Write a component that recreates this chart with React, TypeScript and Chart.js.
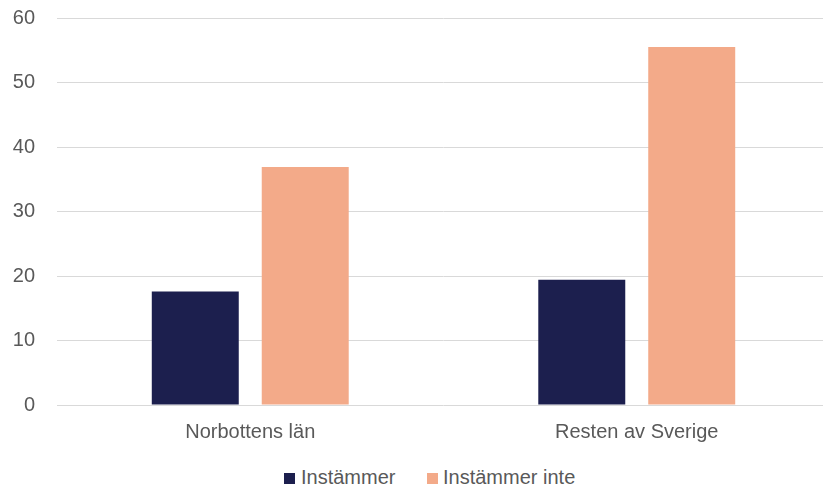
import React, { useEffect, useRef } from "react";
import { Chart, registerables } from "chart.js";

Chart.register(...registerables);

const categories = ["Norbottens län", "Resten av Sverige"];
const seriesNames = ["Instämmer", "Instämmer inte"];
const seriesColors = ["#1c1f4e", "#f3aa89"];
const instammer = [17.6, 19.4];
const instammerInte = [36.9, 55.5];
const yTicks = [0, 10, 20, 30, 40, 50, 60];

const FONT_FAMILY = "'Liberation Sans', Arial, sans-serif";
const TEXT_COLOR = "#595959";

export default function App() {
  const ref = useRef<HTMLCanvasElement | null>(null);
  useEffect(() => {
    if (!ref.current) return;
    const font = { family: FONT_FAMILY, size: 20 };
    const chart = new Chart(ref.current, {
      type: "bar",
      data: {
        labels: categories,
        datasets: [
          { label: seriesNames[0], data: instammer, backgroundColor: seriesColors[0], categoryPercentage: 0.569, barPercentage: 0.791 },
          { label: seriesNames[1], data: instammerInte, backgroundColor: seriesColors[1], categoryPercentage: 0.569, barPercentage: 0.791 },
        ],
      },
      options: {
        animation: false,
        responsive: false,
        maintainAspectRatio: false,
        layout: { padding: { top: 0, right: 0, left: 0, bottom: 0 } },
        plugins: {
          legend: { display: false },
          tooltip: { enabled: false },
        },
        scales: {
          x: {
            grid: { display: false, drawTicks: false },
            border: { display: false },
            ticks: { color: TEXT_COLOR, font, padding: 15 },
          },
          y: {
            min: 0,
            max: 60,
            afterBuildTicks: (s: any) => { s.ticks = yTicks.map((v) => ({ value: v })); },
            afterFit: (s: any) => { s.width = 57; },
            grid: { color: "#d9d9d9", lineWidth: 1, drawTicks: false },
            border: { display: false },
            ticks: { color: TEXT_COLOR, font, padding: 22 },
          },
        },
      },
    });
    return () => chart.destroy();
  }, []);

  const legendPos = [
    { box: 284, text: 301 },
    { box: 426.5, text: 443 },
  ];

  return (
    <div style={{ position: "fixed", left: 0, top: 0, width: 823, height: 488, overflow: "hidden", background: "#fff" }}>
      <canvas ref={ref} width={830} height={475} style={{ display: "block", position: "absolute", left: 0, top: -16 }} />
      {seriesNames.map((name, i) => (
        <React.Fragment key={name}>
          <div style={{ position: "absolute", left: legendPos[i].box, top: 473, width: 11, height: 11, background: seriesColors[i] }} />
          <div style={{ position: "absolute", left: legendPos[i].text, top: 467, height: 20, lineHeight: "20px", fontFamily: FONT_FAMILY, fontSize: 20, color: TEXT_COLOR, whiteSpace: "nowrap" }}>{name}</div>
        </React.Fragment>
      ))}
    </div>
  );
}
